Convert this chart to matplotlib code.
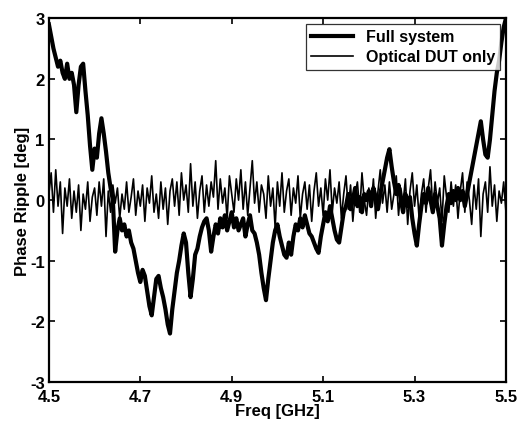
import numpy as np
import matplotlib
matplotlib.use("Agg")
import matplotlib.pyplot as plt

freq_start, freq_stop, n_pts = 4.5, 5.5, 201
freq = np.linspace(freq_start, freq_stop, n_pts)

full_system = [
    2.9, 2.7, 2.5, 2.35, 2.2, 2.3, 2.1, 2.0, 2.25, 2.0,
    2.1, 1.9, 1.45, 1.9, 2.2, 2.25, 1.8, 1.4, 0.9, 0.5,
    0.85, 0.7, 1.1, 1.35, 1.1, 0.8, 0.45, 0.2, 0.0, -0.85,
    -0.5, -0.3, -0.5, -0.4, -0.6, -0.5, -0.7, -0.8, -1.0, -1.2,
    -1.35, -1.15, -1.25, -1.5, -1.75, -1.9, -1.6, -1.3, -1.25, -1.45,
    -1.6, -1.8, -2.05, -2.2, -1.8, -1.5, -1.2, -1.0, -0.75, -0.55,
    -0.7, -1.2, -1.6, -1.3, -0.9, -0.8, -0.6, -0.45, -0.35, -0.3,
    -0.5, -0.85, -0.6, -0.4, -0.55, -0.3, -0.45, -0.25, -0.5, -0.35,
    -0.2, -0.45, -0.3, -0.5, -0.4, -0.3, -0.6, -0.4, -0.25, -0.5,
    -0.55, -0.7, -0.9, -1.2, -1.45, -1.65, -1.3, -1.0, -0.7, -0.5,
    -0.4, -0.6, -0.75, -0.9, -0.95, -0.7, -0.9, -0.6, -0.4, -0.5,
    -0.3, -0.45, -0.25, -0.4, -0.55, -0.6, -0.7, -0.8, -0.87, -0.6,
    -0.4, -0.2, -0.35, -0.1, -0.3, -0.5, -0.65, -0.7, -0.45, -0.2,
    -0.1, 0.1, -0.15, 0.0, 0.2, -0.1, 0.05, -0.2, 0.1, 0.0,
    0.15, -0.1, 0.2, 0.05, -0.15, 0.1, 0.3, 0.5, 0.7, 0.84,
    0.55, 0.3, 0.1, 0.25, 0.0, -0.2, 0.1, -0.1, 0.05, -0.3,
    -0.55, -0.75, -0.4, -0.1, 0.1, -0.05, 0.2, 0.0, -0.2, 0.1,
    -0.1, -0.3, -0.75, -0.4, -0.1, 0.1, -0.05, 0.15, 0.0, 0.2,
    0.0, 0.15, -0.1, 0.1, 0.3, 0.5, 0.7, 0.9, 1.1, 1.3,
    1.0, 0.75, 0.7, 1.0, 1.4, 1.8, 2.1, 2.3, 2.6, 2.85, 3.0,
]

optical_dut = [
    0.1, 0.45, -0.2, 0.5, -0.1, 0.3, -0.55, 0.2, -0.1, 0.35,
    -0.3, 0.15, -0.2, 0.25, -0.5, 0.1, -0.15, 0.3, -0.35, 0.05,
    0.2, -0.25, 0.3, -0.1, 0.35, -0.6, 0.15, -0.2, 0.25, -0.05,
    0.2, -0.3, 0.1, -0.15, 0.3, -0.2, 0.05, 0.35, -0.25, 0.15,
    -0.1, 0.25, -0.35, 0.2, -0.05, 0.4, -0.2, 0.1, -0.3, 0.3,
    -0.15, 0.2, -0.4, 0.15, 0.35, -0.1, 0.3, -0.25, 0.45, 0.0,
    0.25, -0.2, 0.6, -0.1, 0.3, -0.3, 0.15, 0.4, -0.2, 0.25,
    -0.1, 0.3, 0.05, 0.65, -0.15, 0.35, -0.05, 0.2, -0.3, 0.4,
    0.1, -0.2, 0.35, 0.0, 0.5, -0.15, 0.3, -0.25, 0.2, 0.65,
    -0.05, 0.3, -0.2, 0.25, 0.1, -0.3, 0.4, -0.1, 0.2, -0.45,
    0.3, -0.1, 0.45, -0.2, 0.15, 0.35, -0.25, 0.2, -0.05, 0.4,
    -0.3, 0.1, 0.3, -0.15, 0.25, -0.35, 0.15, 0.45, -0.1, 0.2,
    -0.25, 0.35, 0.0, 0.5, -0.2, 0.2, -0.05, 0.3, -0.3, 0.1,
    0.4, -0.15, 0.25, -0.35, 0.1, 0.3, -0.2, 0.45, 0.0, -0.25,
    0.2, -0.1, 0.35, -0.3, 0.15, 0.5, -0.05, 0.25, -0.2, 0.3,
    -0.15, 0.1, 0.4, -0.25, 0.2, -0.05, 0.35, -0.4, 0.15, 0.45,
    -0.1, 0.25, -0.3, 0.1, 0.35, -0.2, 0.2, 0.5, -0.15, 0.3,
    -0.05, 0.2, -0.35, 0.4, 0.05, -0.2, 0.3, -0.1, 0.25, -0.3,
    0.15, 0.45, -0.2, 0.3, 0.0, -0.4, 0.25, -0.15, 0.35, -0.6,
    0.1, 0.3, -0.2, 0.55, -0.1, 0.25, -0.35, 0.15, -0.05, 0.3, -0.2,
]

xticks = [4.5, 4.7, 4.9, 5.1, 5.3, 5.5]
xtick_labels = ["4.5", "4.7", "4.9", "5.1", "5.3", "5.5"]
yticks = [-3, -2, -1, 0, 1, 2, 3]
ytick_labels = ["-3", "-2", "-1", "0", "1", "2", "3"]

plt.rcParams['font.family'] = ['Liberation Sans', 'DejaVu Sans']
plt.rcParams['font.weight'] = 'bold'

fig = plt.figure(figsize=(5.2, 4.27), dpi=100)
ax = fig.add_axes([0.094, 0.103, 0.879, 0.852])

ax.plot(freq, full_system, color='black', lw=3.0, label='Full system')
ax.plot(freq, optical_dut, color='black', lw=1.2, label='Optical DUT only')

ax.set_xlim(4.5, 5.5)
ax.set_ylim(-3, 3)
ax.set_xticks(xticks)
ax.set_xticklabels(xtick_labels)
ax.set_yticks(yticks)
ax.set_yticklabels(ytick_labels)
ax.tick_params(direction='in', top=True, right=True, labelsize=12, width=1.2, length=4)
ax.tick_params(axis='x', pad=5)
ax.tick_params(axis='y', pad=3)
for s in ax.spines.values():
    s.set_linewidth(1.6)

ax.set_xlabel('Freq [GHz]', fontsize=12, fontweight='bold', labelpad=-1)
ax.set_ylabel('Phase Ripple [deg]', fontsize=12, fontweight='bold', labelpad=0)

leg = ax.legend(loc='upper right', fontsize=11.5, frameon=True, fancybox=False,
                edgecolor='black', borderpad=0.35, handlelength=2.6,
                labelspacing=0.3, borderaxespad=0.35)
leg.get_frame().set_linewidth(0.9)

fig.savefig('out.png', dpi=100)
